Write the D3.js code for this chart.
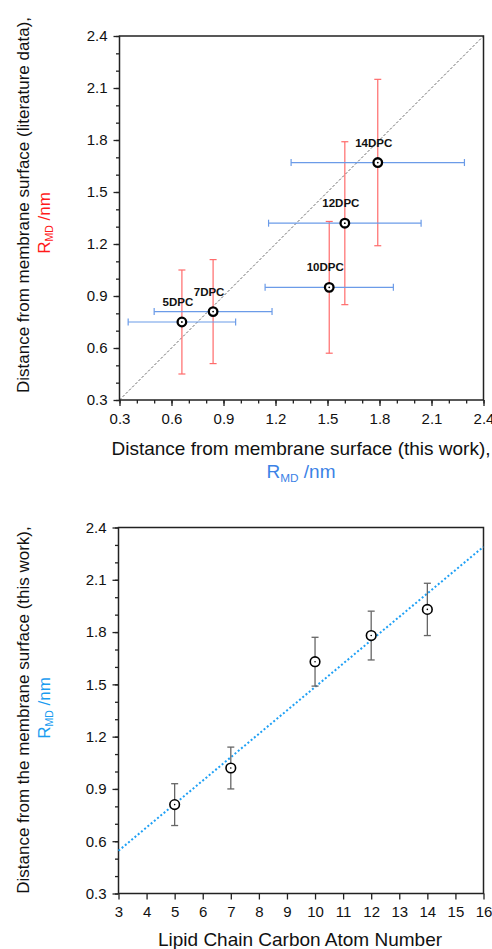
<!DOCTYPE html>
<html><head><meta charset="utf-8">
<script src="https://cdn.jsdelivr.net/npm/d3@7"></script>
<style>
html,body{margin:0;padding:0;background:#fff;}
svg{display:block;font-family:"Liberation Sans",Arial,sans-serif;}
</style></head>
<body><svg id="c" width="492" height="949"></svg>
<script>
// ---- Top chart data (this work vs literature) ----
const labels = ["5DPC","7DPC","10DPC","12DPC","14DPC"];
const thisWork = [0.66, 0.84, 1.51, 1.60, 1.79];
const thisWorkErr = [0.31, 0.34, 0.37, 0.44, 0.50];
const literature = [0.75, 0.81, 0.95, 1.32, 1.67];
const literatureErr = [0.30, 0.30, 0.38, 0.47, 0.48];
const topTicks = [0.3, 0.6, 0.9, 1.2, 1.5, 1.8, 2.1, 2.4];

// ---- Bottom chart data ----
const carbonNumber = [5, 7, 10, 12, 14];
const rmd = [0.81, 1.02, 1.63, 1.78, 1.93];
const rmdErr = [0.12, 0.12, 0.14, 0.14, 0.15];
const fitX = [3, 16];
const fitY = [0.545, 2.29];
const bottomXTicks = [3,4,5,6,7,8,9,10,11,12,13,14,15,16];
const bottomYTicks = [0.3, 0.6, 0.9, 1.2, 1.5, 1.8, 2.1, 2.4];

const svg = d3.select("#c");
const RED = "#ff6b6b", BLUE = "#6b9be8", FITBLUE = "#1fa0f5", TITLEBLUE = "#3b82e6", TITLEBLUE2 = "#1a9cf0";
const TICKFS = 15, XTITLEFS = 19, YTITLEFS = 17;
const FONT = '"Liberation Sans", Arial, sans-serif';

function minorTicks(lo, hi, step){ const a=[]; for(let v=lo; v<=hi+1e-9; v+=step) a.push(+v.toFixed(4)); return a; }

function frame(g, x, y, w, h){
  g.append("rect").attr("x",x).attr("y",y).attr("width",w).attr("height",h)
   .attr("fill","none").attr("stroke","#222").attr("stroke-width",1.5);
}
function rmdTitle(sel, fs){
  sel.append("tspan").text("R");
  sel.append("tspan").attr("font-size",fs*0.62).attr("dy",fs*0.2).text("MD");
  sel.append("tspan").attr("dy",-fs*0.2).text(" /nm");
}
function styleAxes(list){
  list.forEach(a=>{
    a.attr("font-family",FONT).attr("font-size",TICKFS);
    a.select(".domain").remove();
    a.selectAll("line").attr("stroke","#222").attr("stroke-width",1.3);
    a.selectAll("text").attr("fill","#111");
  });
}

// ================= TOP CHART =================
{
  const L=119.5, T=36, W=364, H=364;
  const x = d3.scaleLinear().domain([0.3,2.4]).range([L, L+W]);
  const y = d3.scaleLinear().domain([0.3,2.4]).range([T+H, T]);
  const g = svg.append("g");

  g.append("line").attr("x1",x(0.3)).attr("y1",y(0.3)).attr("x2",x(2.4)).attr("y2",y(2.4))
   .attr("stroke","#666").attr("stroke-width",1).attr("stroke-dasharray","2.5,2");

  const xAx = g.append("g").attr("transform",`translate(0,${T+H})`)
    .call(d3.axisBottom(x).tickValues(topTicks).tickFormat(d3.format(".1f")).tickSize(6).tickSizeOuter(0));
  const xMin = g.append("g").attr("transform",`translate(0,${T+H})`)
    .call(d3.axisBottom(x).tickValues(minorTicks(0.3,2.4,0.1)).tickFormat("").tickSize(3.5).tickSizeOuter(0));
  const yAx = g.append("g").attr("transform",`translate(${L},0)`)
    .call(d3.axisLeft(y).tickValues(topTicks).tickFormat(d3.format(".1f")).tickSize(6).tickSizeOuter(0));
  const yMin = g.append("g").attr("transform",`translate(${L},0)`)
    .call(d3.axisLeft(y).tickValues(minorTicks(0.3,2.4,0.1)).tickFormat("").tickSize(3.5).tickSizeOuter(0));
  styleAxes([xAx,xMin,yAx,yMin]);
  xAx.selectAll("text").attr("dy","1.0em");
  yAx.selectAll("text").attr("dx","-0.2em");
  frame(g, L, T, W, H);

  const data = labels.map((l,i)=>({l, x:thisWork[i], xe:thisWorkErr[i], y:literature[i], ye:literatureErr[i]}));
  const cap = 3.5;
  data.forEach(d=>{
    const e = g.append("g").attr("stroke",RED).attr("stroke-width",1.2);
    e.append("line").attr("x1",x(d.x)).attr("x2",x(d.x)).attr("y1",y(d.y-d.ye)).attr("y2",y(d.y+d.ye));
    e.append("line").attr("x1",x(d.x)-cap).attr("x2",x(d.x)+cap).attr("y1",y(d.y+d.ye)).attr("y2",y(d.y+d.ye));
    e.append("line").attr("x1",x(d.x)-cap).attr("x2",x(d.x)+cap).attr("y1",y(d.y-d.ye)).attr("y2",y(d.y-d.ye));
  });
  data.forEach(d=>{
    const e = g.append("g").attr("stroke",BLUE).attr("stroke-width",1.2);
    e.append("line").attr("y1",y(d.y)).attr("y2",y(d.y)).attr("x1",x(d.x-d.xe)).attr("x2",x(d.x+d.xe));
    e.append("line").attr("y1",y(d.y)-cap).attr("y2",y(d.y)+cap).attr("x1",x(d.x-d.xe)).attr("x2",x(d.x-d.xe));
    e.append("line").attr("y1",y(d.y)-cap).attr("y2",y(d.y)+cap).attr("x1",x(d.x+d.xe)).attr("x2",x(d.x+d.xe));
  });
  g.selectAll("circle.m").data(data).join("circle").attr("class","m")
    .attr("cx",d=>x(d.x)).attr("cy",d=>y(d.y)).attr("r",4.3)
    .attr("fill","#fff").attr("stroke","#000").attr("stroke-width",2.3);
  g.selectAll("circle.dot").data(data).join("circle").attr("class","dot")
    .attr("cx",d=>x(d.x)).attr("cy",d=>y(d.y)).attr("r",0.9).attr("fill","#000");
  g.selectAll("text.lab").data(data).join("text").attr("class","lab")
    .attr("x",d=>x(d.x)-4).attr("y",d=>y(d.y)-16).attr("text-anchor","middle")
    .attr("font-size",11.5).attr("font-weight","bold").attr("fill","#111").text(d=>d.l);

  svg.append("text").attr("x",301).attr("y",455).attr("text-anchor","middle").attr("font-size",XTITLEFS).attr("fill","#111")
    .text("Distance from membrane surface (this work),");
  rmdTitle(svg.append("text").attr("x",301).attr("y",478).attr("text-anchor","middle").attr("font-size",XTITLEFS).attr("fill",TITLEBLUE), XTITLEFS);

  svg.append("text").attr("transform","translate(29,205) rotate(-90)").attr("text-anchor","middle").attr("font-size",YTITLEFS).attr("fill","#111")
    .text("Distance from membrane surface (literature data),");
  rmdTitle(svg.append("text").attr("transform","translate(50,223) rotate(-90)").attr("text-anchor","middle").attr("font-size",YTITLEFS).attr("fill","#ff1a1a"), YTITLEFS);
}

// ================= BOTTOM CHART =================
{
  const L=118.5, T=527.5, W=365, H=366;
  const x = d3.scaleLinear().domain([3,16]).range([L, L+W]);
  const y = d3.scaleLinear().domain([0.3,2.4]).range([T+H, T]);
  const g = svg.append("g");

  const xAx = g.append("g").attr("transform",`translate(0,${T+H})`)
    .call(d3.axisBottom(x).tickValues(bottomXTicks).tickFormat(d3.format("d")).tickSize(6).tickSizeOuter(0));
  const yAx = g.append("g").attr("transform",`translate(${L},0)`)
    .call(d3.axisLeft(y).tickValues(bottomYTicks).tickFormat(d3.format(".1f")).tickSize(6).tickSizeOuter(0));
  const yMin = g.append("g").attr("transform",`translate(${L},0)`)
    .call(d3.axisLeft(y).tickValues(minorTicks(0.3,2.4,0.1)).tickFormat("").tickSize(3.5).tickSizeOuter(0));
  styleAxes([xAx,yAx,yMin]);
  xAx.selectAll("text").attr("dy","0.97em");
  yAx.selectAll("text").attr("dx","-0.2em");
  frame(g, L, T, W, H);

  g.append("path").datum(fitX.map((v,i)=>[v,fitY[i]]))
    .attr("d", d3.line().x(d=>x(d[0])).y(d=>y(d[1])))
    .attr("stroke",FITBLUE).attr("stroke-width",2).attr("stroke-dasharray","2,2.2").attr("fill","none");

  const data = carbonNumber.map((c,i)=>({x:c, y:rmd[i], e:rmdErr[i]}));
  const cap = 3.5;
  data.forEach(d=>{
    const e = g.append("g").attr("stroke","#666").attr("stroke-width",1.3);
    e.append("line").attr("x1",x(d.x)).attr("x2",x(d.x)).attr("y1",y(d.y-d.e)).attr("y2",y(d.y+d.e));
    e.append("line").attr("x1",x(d.x)-cap).attr("x2",x(d.x)+cap).attr("y1",y(d.y+d.e)).attr("y2",y(d.y+d.e));
    e.append("line").attr("x1",x(d.x)-cap).attr("x2",x(d.x)+cap).attr("y1",y(d.y-d.e)).attr("y2",y(d.y-d.e));
  });
  g.selectAll("circle.m").data(data).join("circle").attr("class","m")
    .attr("cx",d=>x(d.x)).attr("cy",d=>y(d.y)).attr("r",4.8)
    .attr("fill","#fff").attr("stroke","#000").attr("stroke-width",1.6);
  g.selectAll("circle.dot").data(data).join("circle").attr("class","dot")
    .attr("cx",d=>x(d.x)).attr("cy",d=>y(d.y)).attr("r",0.8).attr("fill","#000");

  svg.append("text").attr("x",300).attr("y",946).attr("text-anchor","middle").attr("font-size",XTITLEFS).attr("fill","#111")
    .text("Lipid Chain Carbon Atom Number");
  svg.append("text").attr("transform","translate(29,710) rotate(-90)").attr("text-anchor","middle").attr("font-size",YTITLEFS).attr("fill","#111")
    .text("Distance from the membrane surface (this work),");
  rmdTitle(svg.append("text").attr("transform","translate(50,708) rotate(-90)").attr("text-anchor","middle").attr("font-size",YTITLEFS).attr("fill",TITLEBLUE2), YTITLEFS);
}
</script></body></html>
